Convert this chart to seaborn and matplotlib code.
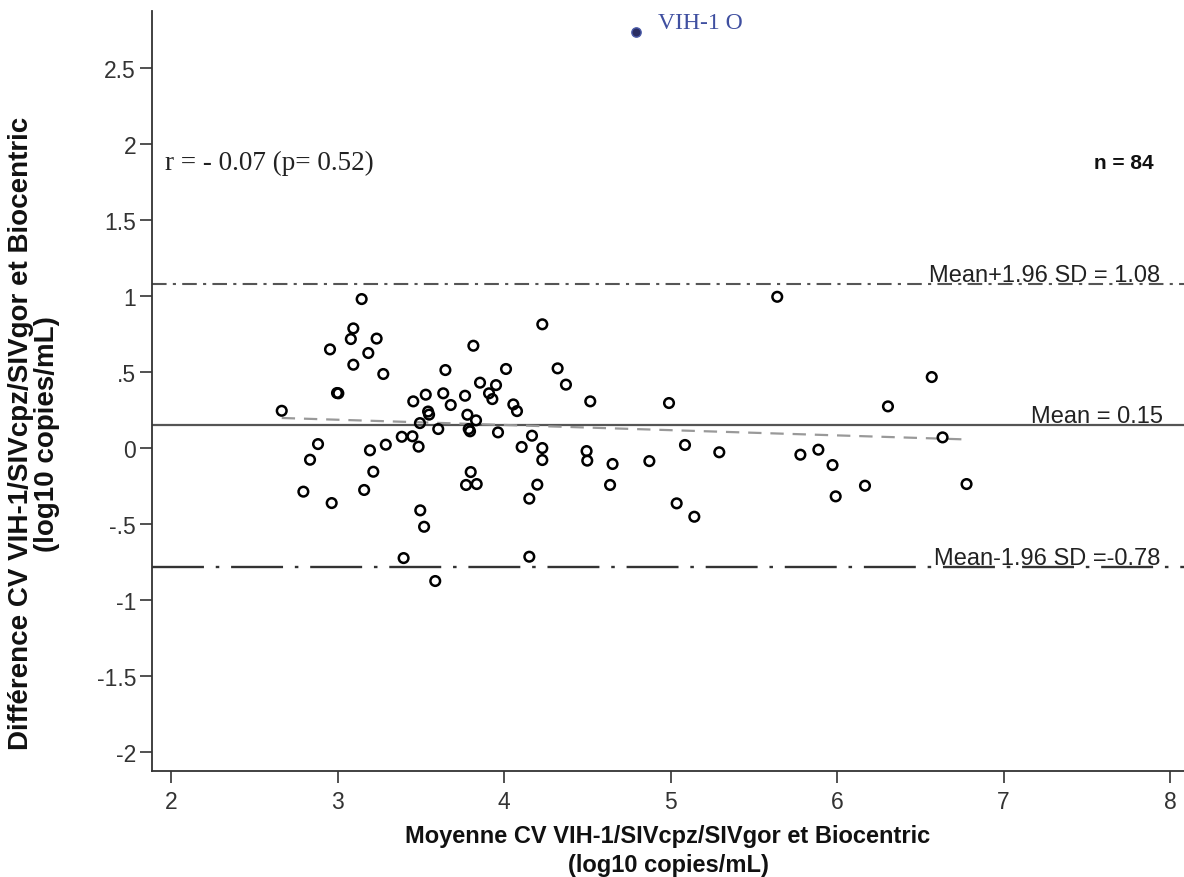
import numpy as np
import pandas as pd
import matplotlib
matplotlib.use("Agg")
import matplotlib.pyplot as plt
import seaborn as sns

# moyenne (x) et difference (y) pour chaque echantillon
moyenne = [3.145, 3.095, 3.08, 3.235, 2.955, 3.185, 3.095, 3.275, 2.997, 3.005,
           2.665, 3.455, 3.53, 3.635, 3.648, 3.68, 3.544, 3.55, 3.495, 3.605,
           2.883, 2.835, 2.795, 2.965, 3.195, 3.29, 3.215, 3.16, 3.386, 3.45,
           3.487, 3.497, 3.52, 3.397, 3.587,
           3.816, 4.23, 4.012, 3.856, 3.952, 3.91, 3.93, 3.766, 4.056, 4.078,
           4.322, 4.372, 4.518, 3.78, 3.832, 3.788, 3.796, 3.964, 4.168, 4.106,
           4.23, 4.23, 4.496, 4.5, 4.652, 3.8, 3.772, 3.836, 4.2, 4.152,
           4.637, 4.152,
           5.641, 4.991, 4.873, 5.087, 5.293, 5.037, 5.143, 5.78, 5.888,
           6.569, 6.306, 6.634, 5.973, 5.992, 6.168, 6.778]
difference = [0.98, 0.787, 0.717, 0.72, 0.649, 0.625, 0.548, 0.487, 0.362, 0.36,
              0.245, 0.307, 0.351, 0.36, 0.513, 0.283, 0.24, 0.22, 0.164, 0.125,
              0.026, -0.077, -0.287, -0.362, -0.015, 0.022, -0.156, -0.276, 0.074, 0.077,
              0.009, -0.41, -0.518, -0.724, -0.875,
              0.673, 0.814, 0.52, 0.43, 0.414, 0.36, 0.322, 0.344, 0.287, 0.243,
              0.524, 0.417, 0.307, 0.219, 0.182, 0.125, 0.11, 0.103, 0.081, 0.007,
              0.0, -0.079, -0.02, -0.083, -0.105, -0.158, -0.243, -0.237, -0.241, -0.333,
              -0.243, -0.715,
              0.995, 0.296, -0.086, 0.02, -0.028, -0.364, -0.452, -0.044, -0.011,
              0.467, 0.274, 0.07, -0.112, -0.318, -0.248, -0.237]

# VIH-1 groupe O
vih_o_x = [4.793]
vih_o_y = [2.737]

mean_diff = 0.15
upper_loa = 1.08
lower_loa = -0.78

yticks = [2.5, 2, 1.5, 1, 0.5, 0, -0.5, -1, -1.5, -2]
ytick_labels = ["2.5", "2", "1.5", "1", ".5", "0", "-.5", "-1", "-1.5", "-2"]
xticks = [2, 3, 4, 5, 6, 7, 8]

df = pd.DataFrame({"moyenne": moyenne, "difference": difference})
# tous les points (y compris VIH-1 O) pour la regression
all_x = np.array(moyenne + vih_o_x)
all_y = np.array(difference + vih_o_y)

sns.set_style("ticks")
plt.rcParams["font.family"] = ["Liberation Sans", "DejaVu Sans"]

fig = plt.figure(figsize=(11.84, 8.78), dpi=100)
ax = fig.add_axes([0.1284, 0.1207, 0.8716, 0.8656])

# limites d'agrement
ax.axhline(upper_loa, color="#555555", lw=1.5, ls=(0, (7, 3, 1.5, 3)), zorder=1)
ax.axhline(mean_diff, color="#555555", lw=1.6, ls="-", zorder=1)
ax.axhline(lower_loa, color="#333333", lw=1.7, ls=(0, (22, 5, 1.5, 5)), zorder=1)

# droite de regression
slope, intercept = np.polyfit(all_x, all_y, 1)
xr = np.array([all_x.min(), all_x.max()])
ax.plot(xr, intercept + slope * xr, color="#999999", lw=1.6, ls=(0, (6, 4)), zorder=2)

sns.scatterplot(data=df, x="moyenne", y="difference", ax=ax, marker="o",
                facecolor="none", edgecolor="black", linewidth=1.8, s=48, zorder=3)
ax.scatter(vih_o_x, vih_o_y, s=45, color="#2a2d62", edgecolor="#4a5aa8", linewidth=1, zorder=3)
ax.text(vih_o_x[0] + 0.13, vih_o_y[0] + 0.06, "VIH-1 O", family="Liberation Serif",
        fontsize=17, color="#3f4fa0", va="center")

ax.set_xlim(1.886, 8.084)
ax.set_ylim(-2.125, 2.875)
ax.set_xticks(xticks)
ax.set_yticks(yticks)
ax.set_yticklabels(ytick_labels)
ax.tick_params(labelsize=16.5, length=8.5, width=1.2, color="#333333", labelcolor="#333333")
ax.tick_params(axis="x", pad=5)
ax.tick_params(axis="y", pad=3)
for side in ["top", "right"]:
    ax.spines[side].set_visible(False)
for side in ["left", "bottom"]:
    ax.spines[side].set_linewidth(1.3)
    ax.spines[side].set_color("#333333")

ax.text(7.94, upper_loa + 0.02, "Mean+1.96 SD = 1.08", ha="right", va="baseline",
        fontsize=17, color="#222222")
ax.text(7.96, mean_diff + 0.02, "Mean = 0.15", ha="right", va="baseline",
        fontsize=17, color="#222222")
ax.text(7.94, lower_loa + 0.02, "Mean-1.96 SD =-0.78", ha="right", va="baseline",
        fontsize=17, color="#222222")

ax.text(1.964, 1.88, "r = - 0.07 (p= 0.52)", family="Liberation Serif", fontsize=19.5,
        va="center", ha="left", color="#222222")
ax.text(7.9, 1.88, "n = 84", fontsize=15, fontweight="bold", va="center", ha="right",
        color="#111111")

ax.set_xlabel("Moyenne CV VIH-1/SIVcpz/SIVgor et Biocentric\n(log10 copies/mL)",
              fontsize=17, fontweight="bold", labelpad=8, linespacing=1.35, color="#111111")
ax.set_ylabel("Différence CV VIH-1/SIVcpz/SIVgor et Biocentric\n(log10 copies/mL)",
              fontsize=20, fontweight="bold", linespacing=1.0, color="#111111")
# centre du titre y un peu plus bas que le centre de l'axe
ax.yaxis.set_label_coords(-0.089, 0.445)

fig.savefig("out.png", dpi=100)
